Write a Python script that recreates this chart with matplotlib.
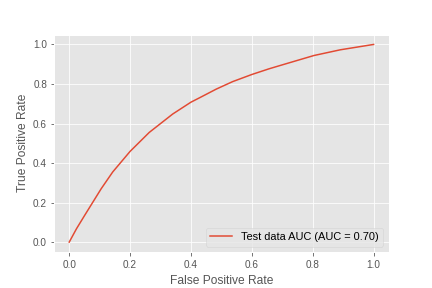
import numpy as np
from matplotlib import pyplot as plt

plt.style.use('ggplot')
plt.rcParams['font.family'] = ['Liberation Sans', 'DejaVu Sans']

# ROC curve
fpr = [0.0, 0.024, 0.051, 0.078, 0.105, 0.143, 0.2, 0.263, 0.34, 0.4, 0.428,
       0.483, 0.537, 0.6, 0.657, 0.705, 0.804, 0.891, 1.0]
tpr = [0.0, 0.068, 0.136, 0.203, 0.27, 0.355, 0.459, 0.555, 0.648, 0.708, 0.73,
       0.774, 0.812, 0.848, 0.877, 0.899, 0.944, 0.973, 1.0]
auc = 0.70

fig = plt.figure(figsize=(6, 4), dpi=72)
plt.subplots_adjust(bottom=0.125)
plt.plot(fpr, tpr, label='Test data AUC (AUC = %0.2f)' % auc)
plt.tick_params(axis='x', pad=5)
plt.xlabel('False Positive Rate', labelpad=5)
plt.ylabel('True Positive Rate')
plt.legend(loc='lower right', fontsize=11)
plt.savefig('out.png', dpi=72)
